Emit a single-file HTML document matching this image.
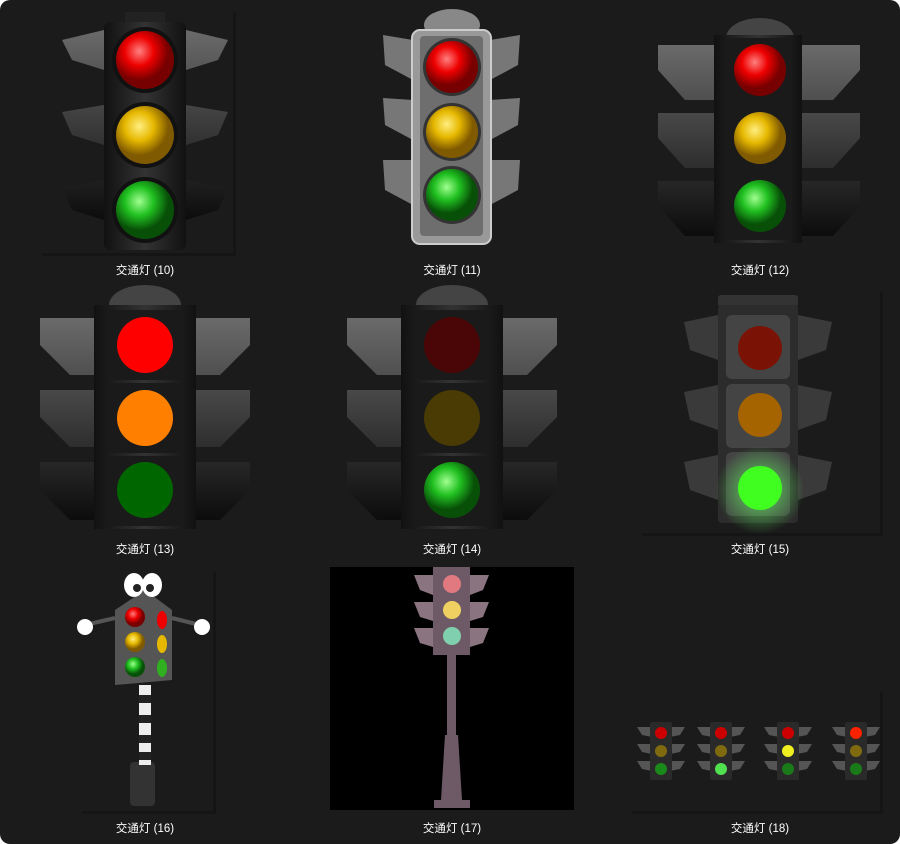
<!DOCTYPE html>
<html><head><meta charset="utf-8">
<style>
html,body{margin:0;padding:0;background:#fff;}
#w{width:900px;height:844px;background:#1b1b1b;border-radius:10px;position:relative;overflow:hidden;}
.l{position:absolute;width:300px;text-align:center;color:#fff;font:11.5px "Liberation Sans","Noto Sans CJK SC",sans-serif;}
svg{position:absolute;left:0;top:0;}
</style></head><body>
<div id="w">
<svg width="900" height="844" viewBox="0 0 900 844">
<defs>
<radialGradient id="r" cx="40%" cy="35%"><stop offset="0" stop-color="#ff8080"/><stop offset=".5" stop-color="#e00"/><stop offset="1" stop-color="#700"/></radialGradient>
<radialGradient id="y" cx="40%" cy="35%"><stop offset="0" stop-color="#ffee80"/><stop offset=".5" stop-color="#e6b800"/><stop offset="1" stop-color="#805a00"/></radialGradient>
<radialGradient id="g" cx="40%" cy="35%"><stop offset="0" stop-color="#a0ff90"/><stop offset=".5" stop-color="#20c020"/><stop offset="1" stop-color="#085008"/></radialGradient>
<linearGradient id="wing" x1="0" y1="0" x2="0" y2="1"><stop offset="0" stop-color="#6a6a6a"/><stop offset="1" stop-color="#0c0c0c"/></linearGradient>
<linearGradient id="body" x1="0" y1="0" x2="1" y2="0"><stop offset="0" stop-color="#111"/><stop offset=".5" stop-color="#333"/><stop offset="1" stop-color="#111"/></linearGradient>
<radialGradient id="glow"><stop offset="0" stop-color="#6f6" stop-opacity=".8"/><stop offset="1" stop-color="#6f6" stop-opacity="0"/></radialGradient>
</defs>
<!-- tile shadows (subtle) -->
<g fill="#151515">
<rect x="233" y="12" width="3" height="244"/><rect x="42" y="253" width="194" height="3"/>
<rect x="880" y="292" width="3" height="244"/><rect x="642" y="533" width="241" height="3"/>
<rect x="213" y="572" width="3" height="242"/><rect x="82" y="811" width="134" height="3"/>
<rect x="880" y="692" width="3" height="122"/><rect x="632" y="811" width="251" height="3"/>
</g>
<!-- (10) -->
<g>
<path d="M104 30 L62 40 L72 60 L104 70Z M104 105 L62 112 L72 135 L104 145Z M104 180 L62 188 L72 210 L104 220Z" fill="url(#wing)"/>
<path d="M186 30 L228 40 L218 60 L186 70Z M186 105 L228 112 L218 135 L186 145Z M186 180 L228 188 L218 210 L186 220Z" fill="url(#wing)"/>
<rect x="125" y="12" width="40" height="12" fill="#222"/>
<rect x="104" y="22" width="82" height="228" rx="6" fill="url(#body)"/>
<circle cx="145" cy="60" r="33" fill="#111"/><circle cx="145" cy="60" r="29" fill="url(#r)"/>
<circle cx="145" cy="135" r="33" fill="#111"/><circle cx="145" cy="135" r="29" fill="url(#y)"/>
<circle cx="145" cy="210" r="33" fill="#111"/><circle cx="145" cy="210" r="29" fill="url(#g)"/>
</g>
<!-- (11) -->
<g>
<ellipse cx="452" cy="25" rx="28" ry="16" fill="#888"/>
<path d="M413 40 L383 35 L385 65 L413 80Z M413 100 L383 98 L385 125 L413 140Z M413 160 L383 160 L385 190 L413 205Z" fill="#777"/>
<path d="M490 40 L520 35 L518 65 L490 80Z M490 100 L520 98 L518 125 L490 140Z M490 160 L520 160 L518 190 L490 205Z" fill="#777"/>
<rect x="412" y="30" width="79" height="214" rx="8" fill="#999" stroke="#ccc" stroke-width="2"/>
<rect x="420" y="36" width="63" height="200" rx="4" fill="#6e6e6e"/>
<circle cx="452" cy="67" r="29" fill="#333"/><circle cx="452" cy="67" r="26" fill="url(#r)"/>
<circle cx="452" cy="132" r="29" fill="#333"/><circle cx="452" cy="132" r="26" fill="url(#y)"/>
<circle cx="452" cy="195" r="29" fill="#333"/><circle cx="452" cy="195" r="26" fill="url(#g)"/>
</g>
<!-- (12) -->
<g>
<ellipse cx="760" cy="38" rx="34" ry="20" fill="#444"/>
<path d="M718 45 L658 45 L658 70 L685 100 L718 100Z M718 113 L658 113 L658 138 L685 168 L718 168Z M718 181 L658 181 L658 206 L685 236 L718 236Z" fill="url(#wing)"/>
<path d="M800 45 L860 45 L860 70 L833 100 L800 100Z M800 113 L860 113 L860 138 L833 168 L800 168Z M800 181 L860 181 L860 206 L833 236 L800 236Z" fill="url(#wing)"/>
<rect x="714" y="35" width="88" height="208" fill="url(#body)"/>
<rect x="726" y="38" width="66" height="202" fill="#1a1a1a"/>
<circle cx="760" cy="70" r="26" fill="url(#r)"/><circle cx="760" cy="138" r="26" fill="url(#y)"/><circle cx="760" cy="206" r="26" fill="url(#g)"/>
</g>
<!-- (13) and (14) -->
<g id="t13">
<ellipse cx="145" cy="305" rx="36" ry="20" fill="#444"/>
<path d="M98 318 L40 318 L40 345 L70 375 L98 375Z M98 390 L40 390 L40 417 L70 447 L98 447Z M98 462 L40 462 L40 490 L70 520 L98 520Z" fill="url(#wing)"/>
<path d="M192 318 L250 318 L250 345 L220 375 L192 375Z M192 390 L250 390 L250 417 L220 447 L192 447Z M192 462 L250 462 L250 490 L220 520 L192 520Z" fill="url(#wing)"/>
<rect x="94" y="305" width="102" height="224" fill="url(#body)"/>
<rect x="108" y="310" width="74" height="70" fill="#1a1a1a"/><rect x="108" y="383" width="74" height="70" fill="#1a1a1a"/><rect x="108" y="456" width="74" height="70" fill="#1a1a1a"/>
</g>
<circle cx="145" cy="345" r="28" fill="#f00"/><circle cx="145" cy="418" r="28" fill="#ff8000"/><circle cx="145" cy="490" r="28" fill="#060"/>
<use href="#t13" x="307"/>
<circle cx="452" cy="345" r="28" fill="#4a0606"/><circle cx="452" cy="418" r="28" fill="#4a3a04"/><circle cx="452" cy="490" r="28" fill="url(#g)"/>
<!-- (15) -->
<g>
<rect x="718" y="295" width="80" height="12" rx="3" fill="#333"/>
<path d="M718 315 L684 322 L690 350 L718 360Z M718 385 L684 392 L690 420 L718 430Z M718 455 L684 462 L690 490 L718 500Z" fill="#3a3a3a"/>
<path d="M798 315 L832 322 L826 350 L798 360Z M798 385 L832 392 L826 420 L798 430Z M798 455 L832 462 L826 490 L798 500Z" fill="#3a3a3a"/>
<rect x="718" y="305" width="80" height="218" rx="4" fill="#2c2c2c"/>
<rect x="726" y="315" width="64" height="64" rx="6" fill="#444"/><rect x="726" y="384" width="64" height="64" rx="6" fill="#444"/><rect x="726" y="452" width="64" height="64" rx="6" fill="#444"/>
<circle cx="760" cy="348" r="22" fill="#7a1205"/><circle cx="760" cy="415" r="22" fill="#a66400"/>
<circle cx="760" cy="490" r="44" fill="url(#glow)"/><circle cx="760" cy="488" r="22" fill="#40ff20"/>
</g>
<!-- (16) -->
<g>
<rect x="130" y="762" width="25" height="44" rx="4" fill="#333"/>
<rect x="139" y="685" width="12" height="80" fill="#eee"/>
<rect x="139" y="695" width="12" height="8" fill="#222"/><rect x="139" y="715" width="12" height="8" fill="#222"/><rect x="139" y="735" width="12" height="8" fill="#222"/><rect x="139" y="752" width="12" height="8" fill="#222"/>
<path d="M115 610 L145 590 L172 610 L172 680 L115 685Z" fill="#555"/>
<path d="M115 618 L85 625" stroke="#555" stroke-width="4"/><path d="M172 618 L200 625" stroke="#555" stroke-width="4"/>
<circle cx="85" cy="627" r="8" fill="#fff"/><circle cx="202" cy="627" r="8" fill="#fff"/>
<ellipse cx="134" cy="585" rx="10" ry="12" fill="#fff"/><ellipse cx="152" cy="585" rx="10" ry="12" fill="#fff"/>
<circle cx="137" cy="588" r="4" fill="#222"/><circle cx="150" cy="588" r="4" fill="#222"/>
<circle cx="135" cy="617" r="10" fill="url(#r)"/><circle cx="135" cy="642" r="10" fill="url(#y)"/><circle cx="135" cy="667" r="10" fill="url(#g)"/>
<ellipse cx="162" cy="620" rx="5" ry="9" fill="#e00"/><ellipse cx="162" cy="644" rx="5" ry="9" fill="#e6b800"/><ellipse cx="162" cy="668" rx="5" ry="9" fill="#30b020"/>
</g>
<!-- (17) -->
<g>
<rect x="330" y="567" width="244" height="243" fill="#000"/>
<path d="M433 575 L414 575 L420 590 L433 595Z M433 602 L414 602 L420 617 L433 621Z M433 628 L414 628 L420 643 L433 647Z" fill="#8a7480"/>
<path d="M470 575 L489 575 L483 590 L470 595Z M470 602 L489 602 L483 617 L470 621Z M470 628 L489 628 L483 643 L470 647Z" fill="#8a7480"/>
<rect x="433" y="567" width="37" height="88" fill="#6e5a66"/>
<circle cx="452" cy="584" r="9" fill="#e07a80"/><circle cx="452" cy="610" r="9" fill="#f0d060"/><circle cx="452" cy="636" r="9" fill="#80d0b0"/>
<rect x="447" y="655" width="9" height="80" fill="#6e5a66"/>
<path d="M445 735 L458 735 L462 800 L441 800Z" fill="#6e5a66"/>
<rect x="434" y="800" width="36" height="8" fill="#6e5a66"/>
</g>
<!-- (18) -->
<g id="s18">
<path d="M652 727 L637 727 L642 735 L652 737Z M652 744 L637 744 L642 752 L652 754Z M652 761 L637 761 L642 769 L652 771Z" fill="#555"/>
<path d="M670 727 L685 727 L680 735 L670 737Z M670 744 L685 744 L680 752 L670 754Z M670 761 L685 761 L680 769 L670 771Z" fill="#555"/>
<rect x="650" y="722" width="22" height="58" rx="2" fill="#2a2a2a"/>
</g>
<use href="#s18" x="60"/><use href="#s18" x="127"/><use href="#s18" x="195"/>
<circle cx="661" cy="733" r="6" fill="#c00"/><circle cx="661" cy="751" r="6" fill="#806a10"/><circle cx="661" cy="769" r="6" fill="#1a8a1a"/>
<circle cx="721" cy="733" r="6" fill="#c00"/><circle cx="721" cy="751" r="6" fill="#806a10"/><circle cx="721" cy="769" r="6" fill="#50e050"/>
<circle cx="788" cy="733" r="6" fill="#c00"/><circle cx="788" cy="751" r="6" fill="#f0f020"/><circle cx="788" cy="769" r="6" fill="#1a7a1a"/>
<circle cx="856" cy="733" r="6" fill="#f20"/><circle cx="856" cy="751" r="6" fill="#806a10"/><circle cx="856" cy="769" r="6" fill="#1a7a1a"/>
</svg>
<div class="l" style="left:-5px;top:262px">交通灯 (10)</div>
<div class="l" style="left:302px;top:262px">交通灯 (11)</div>
<div class="l" style="left:610px;top:262px">交通灯 (12)</div>
<div class="l" style="left:-5px;top:541px">交通灯 (13)</div>
<div class="l" style="left:302px;top:541px">交通灯 (14)</div>
<div class="l" style="left:610px;top:541px">交通灯 (15)</div>
<div class="l" style="left:-5px;top:820px">交通灯 (16)</div>
<div class="l" style="left:302px;top:820px">交通灯 (17)</div>
<div class="l" style="left:610px;top:820px">交通灯 (18)</div>
</div>
</body></html>
